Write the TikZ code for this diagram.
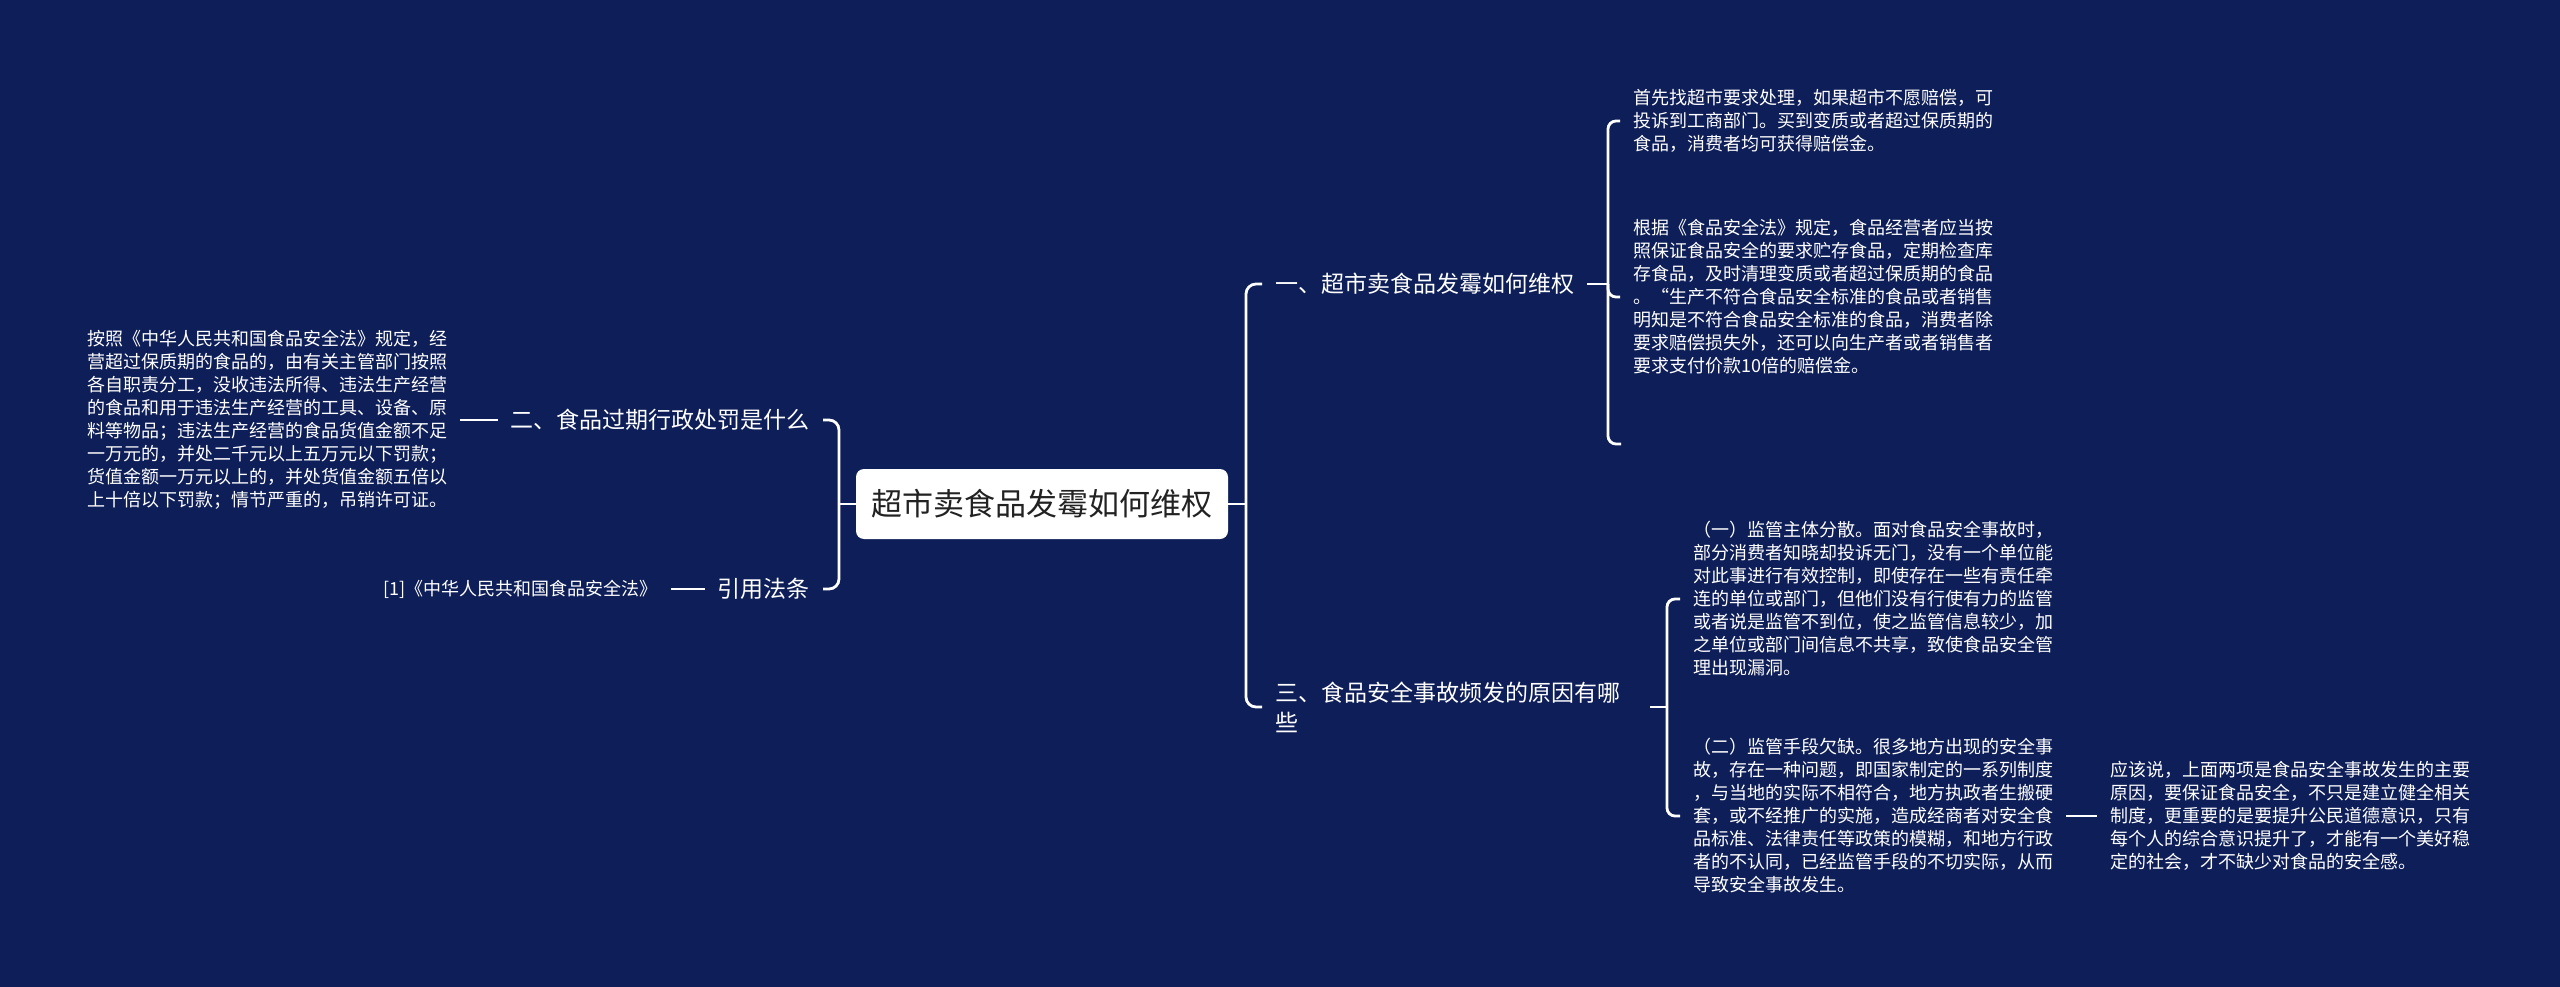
\documentclass[tikz,border=0pt]{standalone}
\usepackage{fontspec}
\setmainfont{Noto Sans CJK SC}
\definecolor{bg}{RGB}{14,30,88}
\definecolor{roottext}{RGB}{34,34,34}
\begin{document}
\begin{tikzpicture}[x=1pt,y=-1pt,
  conn/.style={draw=white,line width=2.8pt},
  leaf/.style={text=white,align=left,font=\fontsize{18}{23}\selectfont,inner xsep=13pt,inner ysep=2pt},
  branch/.style={text=white,align=left,font=\fontsize{23}{30}\selectfont,inner xsep=13pt,inner ysep=3pt},
  rootbox/.style={fill=white,rounded corners=8pt,text=roottext,font=\fontsize{31}{36}\selectfont,minimum width=372pt,minimum height=70pt}]
\fill[bg] (0,0) rectangle (2560,987);
\useasboundingbox (0,0) rectangle (2560,987);

\node[rootbox] (root) at (1042,504) {超市卖食品发霉如何维权};
\node[branch,anchor=west] (b1) at (1262,284) {一、超市卖食品发霉如何维权};
\node[branch,anchor=west,text width=362pt] (b3) at (1262,707) {三、食品安全事故频发的原因有哪\\些};
\node[branch,anchor=east] (b2) at (823,420) {二、食品过期行政处罚是什么};
\node[branch,anchor=east] (b4) at (823,589) {引用法条};

\node[leaf,anchor=west] (c1) at (1620,121) {首先找超市要求处理，如果超市不愿赔偿，可\\投诉到工商部门。买到变质或者超过保质期的\\食品，消费者均可获得赔偿金。};
\node[leaf,anchor=west] (c2) at (1620,297) {根据《食品安全法》规定，食品经营者应当按\\照保证食品安全的要求贮存食品，定期检查库\\存食品，及时清理变质或者超过保质期的食品\\。\makebox[18pt][r]{“}生产不符合食品安全标准的食品或者销售\\明知是不符合食品安全标准的食品，消费者除\\要求赔偿损失外，还可以向生产者或者销售者\\要求支付价款10倍的赔偿金。};
\node[leaf,anchor=west] (d1) at (1680,599) {（一）监管主体分散。面对食品安全事故时，\\部分消费者知晓却投诉无门，没有一个单位能\\对此事进行有效控制，即使存在一些有责任牵\\连的单位或部门，但他们没有行使有力的监管\\或者说是监管不到位，使之监管信息较少，加\\之单位或部门间信息不共享，致使食品安全管\\理出现漏洞。};
\node[leaf,anchor=west] (d2) at (1680,816) {（二）监管手段欠缺。很多地方出现的安全事\\故，存在一种问题，即国家制定的一系列制度\\，与当地的实际不相符合，地方执政者生搬硬\\套，或不经推广的实施，造成经商者对安全食\\品标准、法律责任等政策的模糊，和地方行政\\者的不认同，已经监管手段的不切实际，从而\\导致安全事故发生。};
\node[leaf,anchor=west] (g1) at (2097,816) {应该说，上面两项是食品安全事故发生的主要\\原因，要保证食品安全，不只是建立健全相关\\制度，更重要的是要提升公民道德意识，只有\\每个人的综合意识提升了，才能有一个美好稳\\定的社会，才不缺少对食品的安全感。};
\node[leaf,anchor=west] (L1) at (74,420) {按照《中华人民共和国食品安全法》规定，经\\营超过保质期的食品的，由有关主管部门按照\\各自职责分工，没收违法所得、违法生产经营\\的食品和用于违法生产经营的工具、设备、原\\料等物品；违法生产经营的食品货值金额不足\\一万元的，并处二千元以上五万元以下罚款；\\货值金额一万元以上的，并处货值金额五倍以\\上十倍以下罚款；情节严重的，吊销许可证。};
\node[leaf,anchor=east] (L2) at (671,589) {[1]《中华人民共和国食品安全法》};

\coordinate (rs) at (1246,504);
\coordinate (ls) at (839,504);
\coordinate (k1) at (1608,284);
\coordinate (e1) at (1621,444);
\coordinate (k3) at (1667,707);

\draw[conn] (root.east) -- (rs);
\draw[conn,rounded corners=10pt] (b1.west) -| (rs) |- (b3.west);
\draw[conn] (root.west) -- (ls);
\draw[conn,rounded corners=10pt] (b2.east) -| (ls) |- (b4.east);
\draw[conn] (b2.west) -- (L1.east);
\draw[conn] (b4.west) -- (L2.east);
\draw[conn] (b1.east) -- (k1);
\draw[conn,rounded corners=8pt] (c1.west) -| (k1) |- (e1);
\draw[conn,rounded corners=8pt] (k1) |- (c2.west);
\draw[conn] (b3.east) -- (k3);
\draw[conn,rounded corners=8pt] (d1.west) -| (k3) |- (d2.west);
\draw[conn] (d2.east) -- (g1.west);
\end{tikzpicture}
\end{document}
